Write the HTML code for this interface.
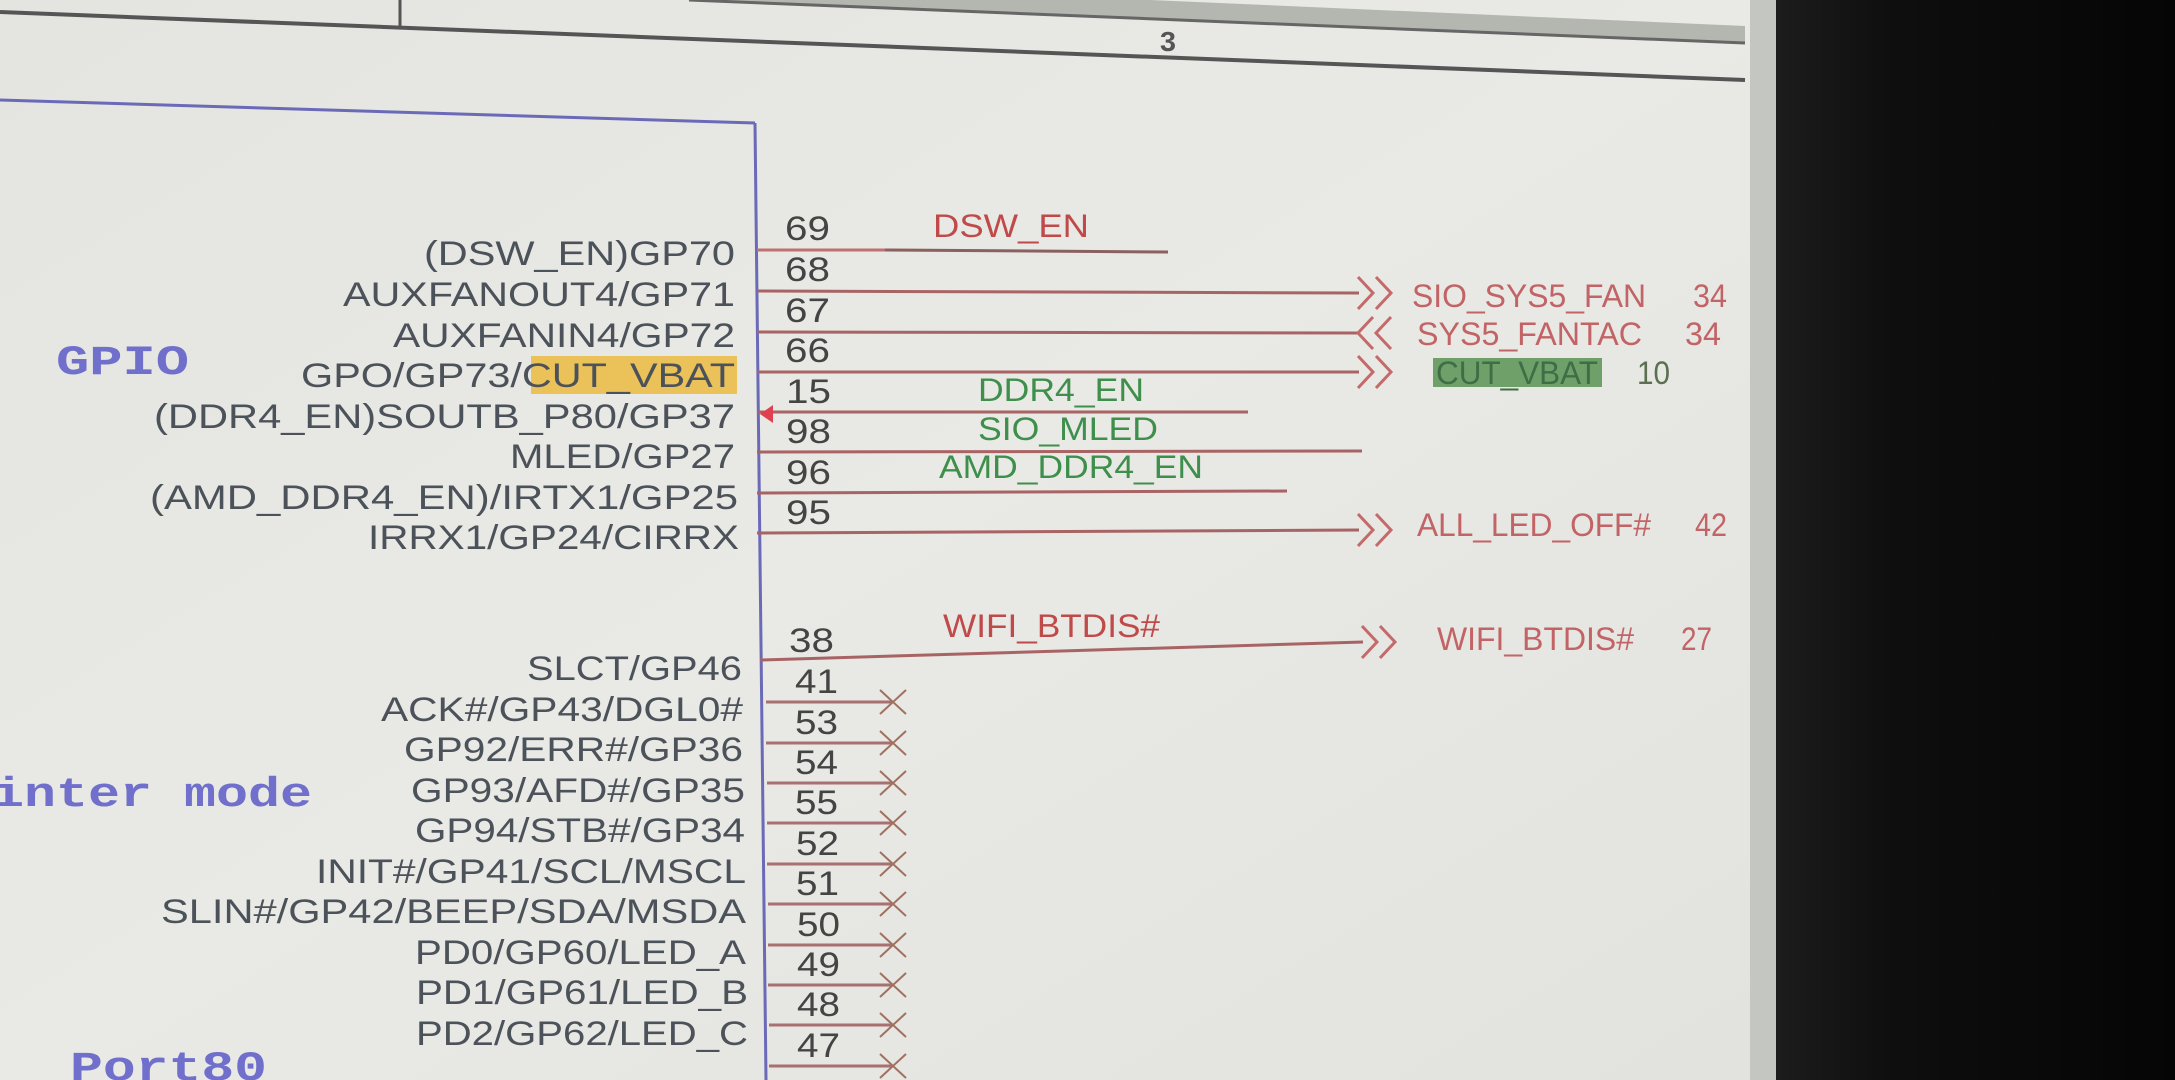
<!DOCTYPE html>
<html><head><meta charset="utf-8"><style>
html,body{margin:0;padding:0;width:2175px;height:1080px;overflow:hidden;background:#0b0b0b}
svg{display:block}
</style></head><body>
<svg width="2175" height="1080" viewBox="0 0 2175 1080" xmlns="http://www.w3.org/2000/svg">
<defs>
<linearGradient id="bg" x1="0" y1="0" x2="1" y2="1">
<stop offset="0" stop-color="#e4e4e0"/><stop offset="0.5" stop-color="#e9e9e5"/><stop offset="1" stop-color="#e2e2de"/>
</linearGradient>
<linearGradient id="dk" x1="0" y1="0" x2="1" y2="0">
<stop offset="0" stop-color="#1c1c1c"/><stop offset="0.3" stop-color="#0e0e0e"/><stop offset="1" stop-color="#050505"/>
</linearGradient>
</defs>
<rect x="0" y="0" width="1750" height="1080" fill="url(#bg)"/>
<rect x="1750" y="0" width="26" height="1080" fill="#c4c6c2"/>
<rect x="1776" y="0" width="399" height="1080" fill="url(#dk)"/>

<!-- header lines -->
<polygon points="689,0 1150,0 1745,26 1745,43" fill="#b4b6b0"/>
<line x1="400" y1="0" x2="400" y2="27" stroke="#555" stroke-width="3"/>
<line x1="689" y1="0" x2="1745" y2="43" stroke="#666" stroke-width="3"/>
<line x1="0" y1="12" x2="1745" y2="80" stroke="#555" stroke-width="4"/>
<text x="1160" y="51" font-family="Liberation Sans, sans-serif" font-size="28" font-weight="bold" fill="#555" textLength="16" lengthAdjust="spacingAndGlyphs">3</text>

<!-- box -->
<line x1="0" y1="100" x2="755" y2="123" stroke="#6a6ab8" stroke-width="3"/>
<line x1="755" y1="123" x2="766" y2="1080" stroke="#6a6ab8" stroke-width="3"/>

<!-- big labels -->
<g font-family="Liberation Mono, monospace" font-weight="bold" fill="#7070cc" font-size="42">
<text x="56" y="374" textLength="133" lengthAdjust="spacingAndGlyphs">GPIO</text>
<text x="-8" y="806" textLength="320" lengthAdjust="spacingAndGlyphs">inter mode</text>
<text x="70" y="1080" textLength="197" lengthAdjust="spacingAndGlyphs">Port80</text>
</g>

<!-- highlight -->
<rect x="531" y="356" width="206" height="38" fill="#ebc15a"/>
<rect x="1433" y="358" width="169" height="29" fill="#6fa06a"/>

<!-- pin lines upper -->
<g stroke-width="3" fill="none">
<line x1="757" y1="250" x2="885" y2="250" stroke="#c07070"/><line x1="885" y1="250" x2="1168" y2="252" stroke="#8a6060"/>
<line x1="757" y1="291" x2="1359" y2="293" stroke="#a86464"/>
<line x1="757" y1="332" x2="1359" y2="333" stroke="#a86464"/>
<line x1="757" y1="372" x2="1359" y2="372" stroke="#a86464"/>
<line x1="757" y1="412" x2="1248" y2="412" stroke="#a86464"/>
<line x1="757" y1="452" x2="1362" y2="451" stroke="#a86464"/>
<line x1="757" y1="493" x2="1287" y2="491" stroke="#a86464"/>
<line x1="757" y1="533" x2="1359" y2="530" stroke="#a86464"/>
<line x1="760" y1="660" x2="1363" y2="642" stroke="#a86464"/>
</g>
<polygon points="760,414 773,405 773,423" fill="#e04050"/>

<!-- chevrons -->
<g stroke="#c46a6a" stroke-width="3" fill="none">
<polyline points="1358,277 1373,293 1358,309"/><polyline points="1376,277 1391,293 1376,309"/>
<polyline points="1373,317 1358,333 1373,349"/><polyline points="1391,317 1376,333 1391,349"/>
<polyline points="1358,356 1373,372 1358,388"/><polyline points="1376,356 1391,372 1376,388"/>
<polyline points="1358,514 1373,530 1358,546"/><polyline points="1376,514 1391,530 1376,546"/>
<polyline points="1362,626 1377,642 1362,658"/><polyline points="1380,626 1395,642 1380,658"/>
</g>

<!-- lower pin lines with X -->
<g stroke="#a87070" stroke-width="3">
<line x1="766" y1="702" x2="893" y2="702"/><line x1="766" y1="743" x2="893" y2="743"/>
<line x1="767" y1="783" x2="893" y2="783"/><line x1="767" y1="823" x2="893" y2="823"/>
<line x1="767" y1="864" x2="893" y2="864"/><line x1="768" y1="904" x2="893" y2="904"/>
<line x1="768" y1="945" x2="893" y2="945"/><line x1="768" y1="985" x2="893" y2="985"/>
<line x1="769" y1="1025" x2="893" y2="1025"/><line x1="769" y1="1066" x2="893" y2="1066"/>
</g>
<g stroke="#a07060" stroke-width="2">
<path d="M880 690 L906 714 M906 690 L880 714"/><path d="M880 731 L906 755 M906 731 L880 755"/>
<path d="M880 771 L906 795 M906 771 L880 795"/><path d="M880 811 L906 835 M906 811 L880 835"/>
<path d="M880 852 L906 876 M906 852 L880 876"/><path d="M880 892 L906 916 M906 892 L880 916"/>
<path d="M880 933 L906 957 M906 933 L880 957"/><path d="M880 973 L906 997 M906 973 L880 997"/>
<path d="M880 1013 L906 1037 M906 1013 L880 1037"/><path d="M880 1054 L906 1078 M906 1054 L880 1078"/>
</g>

<!-- pin names -->
<g font-family="Liberation Sans, sans-serif" font-size="34" fill="#4c5259">
<text x="424" y="265" textLength="311" lengthAdjust="spacingAndGlyphs">(DSW_EN)GP70</text>
<text x="343" y="306" textLength="392" lengthAdjust="spacingAndGlyphs">AUXFANOUT4/GP71</text>
<text x="393" y="347" textLength="342" lengthAdjust="spacingAndGlyphs">AUXFANIN4/GP72</text>
<text x="301" y="387" textLength="434" lengthAdjust="spacingAndGlyphs">GPO/GP73/CUT_VBAT</text>
<text x="154" y="428" textLength="581" lengthAdjust="spacingAndGlyphs">(DDR4_EN)SOUTB_P80/GP37</text>
<text x="510" y="468" textLength="225" lengthAdjust="spacingAndGlyphs">MLED/GP27</text>
<text x="150" y="509" textLength="588" lengthAdjust="spacingAndGlyphs">(AMD_DDR4_EN)/IRTX1/GP25</text>
<text x="368" y="549" textLength="371" lengthAdjust="spacingAndGlyphs">IRRX1/GP24/CIRRX</text>
<text x="527" y="680" textLength="215" lengthAdjust="spacingAndGlyphs">SLCT/GP46</text>
<text x="381" y="721" textLength="362" lengthAdjust="spacingAndGlyphs">ACK#/GP43/DGL0#</text>
<text x="404" y="761" textLength="339" lengthAdjust="spacingAndGlyphs">GP92/ERR#/GP36</text>
<text x="411" y="802" textLength="334" lengthAdjust="spacingAndGlyphs">GP93/AFD#/GP35</text>
<text x="415" y="842" textLength="330" lengthAdjust="spacingAndGlyphs">GP94/STB#/GP34</text>
<text x="316" y="883" textLength="430" lengthAdjust="spacingAndGlyphs">INIT#/GP41/SCL/MSCL</text>
<text x="161" y="923" textLength="585" lengthAdjust="spacingAndGlyphs">SLIN#/GP42/BEEP/SDA/MSDA</text>
<text x="415" y="964" textLength="331" lengthAdjust="spacingAndGlyphs">PD0/GP60/LED_A</text>
<text x="416" y="1004" textLength="332" lengthAdjust="spacingAndGlyphs">PD1/GP61/LED_B</text>
<text x="416" y="1045" textLength="332" lengthAdjust="spacingAndGlyphs">PD2/GP62/LED_C</text>
</g>

<!-- pin numbers -->
<g font-family="Liberation Sans, sans-serif" font-size="34" fill="#444">
<text x="785" y="240" textLength="45" lengthAdjust="spacingAndGlyphs">69</text>
<text x="785" y="281" textLength="45" lengthAdjust="spacingAndGlyphs">68</text>
<text x="785" y="322" textLength="45" lengthAdjust="spacingAndGlyphs">67</text>
<text x="785" y="362" textLength="45" lengthAdjust="spacingAndGlyphs">66</text>
<text x="786" y="403" textLength="45" lengthAdjust="spacingAndGlyphs">15</text>
<text x="786" y="443" textLength="45" lengthAdjust="spacingAndGlyphs">98</text>
<text x="786" y="484" textLength="45" lengthAdjust="spacingAndGlyphs">96</text>
<text x="786" y="524" textLength="45" lengthAdjust="spacingAndGlyphs">95</text>
<text x="789" y="652" textLength="45" lengthAdjust="spacingAndGlyphs">38</text>
<text x="795" y="693" textLength="43" lengthAdjust="spacingAndGlyphs">41</text>
<text x="795" y="734" textLength="43" lengthAdjust="spacingAndGlyphs">53</text>
<text x="795" y="774" textLength="43" lengthAdjust="spacingAndGlyphs">54</text>
<text x="795" y="814" textLength="43" lengthAdjust="spacingAndGlyphs">55</text>
<text x="796" y="855" textLength="43" lengthAdjust="spacingAndGlyphs">52</text>
<text x="796" y="895" textLength="43" lengthAdjust="spacingAndGlyphs">51</text>
<text x="797" y="936" textLength="43" lengthAdjust="spacingAndGlyphs">50</text>
<text x="797" y="976" textLength="43" lengthAdjust="spacingAndGlyphs">49</text>
<text x="797" y="1016" textLength="43" lengthAdjust="spacingAndGlyphs">48</text>
<text x="797" y="1057" textLength="43" lengthAdjust="spacingAndGlyphs">47</text>
</g>

<!-- net labels -->
<g font-family="Liberation Sans, sans-serif" font-size="32">
<text x="933" y="237" fill="#c04a4a" textLength="156" lengthAdjust="spacingAndGlyphs">DSW_EN</text>
<text x="978" y="401" fill="#3f8f4c" textLength="166" lengthAdjust="spacingAndGlyphs">DDR4_EN</text>
<text x="978" y="440" fill="#3f8f4c" textLength="180" lengthAdjust="spacingAndGlyphs">SIO_MLED</text>
<text x="939" y="478" fill="#3f8f4c" textLength="264" lengthAdjust="spacingAndGlyphs">AMD_DDR4_EN</text>
<text x="943" y="637" fill="#c04a4a" textLength="217" lengthAdjust="spacingAndGlyphs">WIFI_BTDIS#</text>
</g>
<g font-family="Liberation Sans, sans-serif" font-size="32" fill="#c26466">
<text x="1412" y="307" textLength="234" lengthAdjust="spacingAndGlyphs">SIO_SYS5_FAN</text>
<text x="1693" y="307" textLength="34" lengthAdjust="spacingAndGlyphs">34</text>
<text x="1417" y="345" textLength="225" lengthAdjust="spacingAndGlyphs">SYS5_FANTAC</text>
<text x="1685" y="345" textLength="36" lengthAdjust="spacingAndGlyphs">34</text>
<text x="1436" y="384" fill="#3e6e45" textLength="162" lengthAdjust="spacingAndGlyphs">CUT_VBAT</text>
<text x="1637" y="384" fill="#5a7050" textLength="33" lengthAdjust="spacingAndGlyphs">10</text>
<text x="1417" y="536" textLength="234" lengthAdjust="spacingAndGlyphs">ALL_LED_OFF#</text>
<text x="1695" y="536" textLength="32" lengthAdjust="spacingAndGlyphs">42</text>
<text x="1437" y="650" textLength="197" lengthAdjust="spacingAndGlyphs">WIFI_BTDIS#</text>
<text x="1681" y="650" textLength="31" lengthAdjust="spacingAndGlyphs">27</text>
</g>
</svg>
</body></html>
